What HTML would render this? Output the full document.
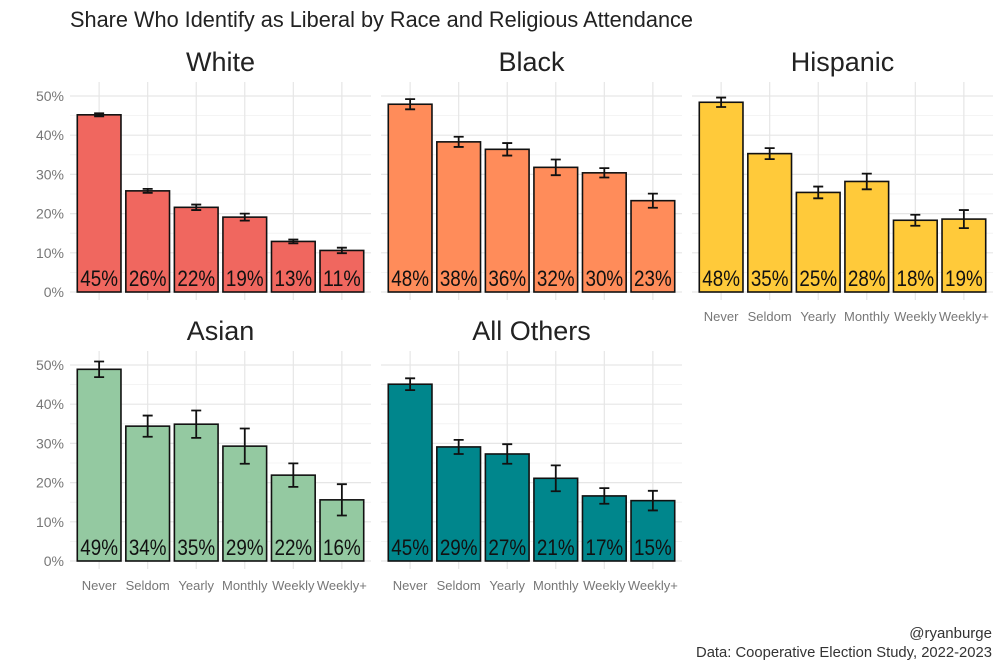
<!DOCTYPE html>
<html><head><meta charset="utf-8">
<style>
body{margin:0;background:#fff;}
svg{display:block;font-family:"Liberation Sans Narrow","Liberation Sans",sans-serif;}
</style></head>
<body>
<svg id="chart" width="1000" height="667" viewBox="0 0 1000 667">
<text x="70" y="27" font-size="22" fill="#222" textLength="623" lengthAdjust="spacingAndGlyphs">Share Who Identify as Liberal by Race and Religious Attendance</text>
<text x="992" y="638" font-size="15" fill="#333" text-anchor="end">@ryanburge</text>
<text x="992" y="657" font-size="15" fill="#333" text-anchor="end" textLength="296" lengthAdjust="spacingAndGlyphs">Data: Cooperative Election Study, 2022-2023</text>
</svg>
<script>
const categories=["Never","Seldom","Yearly","Monthly","Weekly","Weekly+"];
const groups=["White","Black","Hispanic","Asian","All Others"];
const colors=["#F0675F","#FF8C5A","#FFCA3A","#94C9A1","#00868C"];
const whiteVals=[45.2,25.8,21.6,19.1,12.9,10.6];
const blackVals=[47.9,38.3,36.4,31.8,30.4,23.3];
const hispanicVals=[48.4,35.3,25.4,28.2,18.3,18.6];
const asianVals=[48.9,34.4,34.9,29.3,21.9,15.6];
const otherVals=[45.1,29.1,27.3,21.1,16.6,15.4];
const whiteErr=[0.4,0.5,0.7,0.9,0.5,0.7];
const blackErr=[1.3,1.3,1.6,2.0,1.2,1.8];
const hispanicErr=[1.2,1.4,1.5,2.0,1.4,2.3];
const asianErr=[2.0,2.7,3.5,4.5,3.0,4.0];
const otherErr=[1.5,1.8,2.5,3.3,2.0,2.5];
const yTicks=[0,10,20,30,40,50];
const yTickLabels=["0%","10%","20%","30%","40%","50%"];

const allVals=[whiteVals,blackVals,hispanicVals,asianVals,otherVals];
const allErr=[whiteErr,blackErr,hispanicErr,asianErr,otherErr];
const NS="http://www.w3.org/2000/svg";
const svg=document.getElementById('chart');
function mk(tag,attrs,parent){const e=document.createElementNS(NS,tag);for(const k in attrs)e.setAttribute(k,attrs[k]);(parent||svg).appendChild(e);return e;}
const panelLeft=[70,381,692];
const panelW=301;
const rowZero=[292,561];
const pxPerPct=196/50;
groups.forEach((g,gi)=>{
  const col=gi%3,row=Math.floor(gi/3);
  const x0=panelLeft[col],z=rowZero[row];
  const unit=panelW/(categories.length+0.2);
  const xs=i=>x0+unit*(0.6+i);
  const ys=v=>z-v*pxPerPct;
  const grp=mk('g',{},svg);
  
  
  // grid
  for(let t=0;t<=55;t+=5){
    if(ys(t)<z-210)continue;
    const l=mk('line',{x1:x0,x2:x0+panelW,y1:ys(t),y2:ys(t),stroke:t%10===0?'#e6e6e6':'#f1f1f1','stroke-width':t%10===0?1.2:0.8},grp);
    
    
  }
  categories.forEach((c,i)=>{
    const l=mk('line',{x1:xs(i),x2:xs(i),y1:z-210,y2:z+8,stroke:'#e6e6e6','stroke-width':1.2},grp);
    
    
  });
  // y labels
  if(col===0){
    yTicks.forEach((t,i)=>{
      const tx=mk('text',{x:x0-6,y:ys(t)+5,'font-size':14,fill:'#777','text-anchor':'end'},grp);
      tx.textContent=yTickLabels[i];
      
      
    });
  }
  // title
  const tt=mk('text',{x:x0+panelW/2,y:z-221,'font-size':27,fill:'#222','text-anchor':'middle'},grp);
  tt.textContent=g;
  
  
  const vals=allVals[gi],err=allErr[gi];
  const bw=unit*0.9;
  vals.forEach((v,i)=>{
    const r=mk('rect',{x:xs(i)-bw/2,y:ys(v),width:bw,height:v*pxPerPct,fill:colors[gi],stroke:'#111','stroke-width':1.6},grp);
    
    
    const e=err[i];
    const ep=mk('path',{d:`M${xs(i)-5},${ys(v+e)}H${xs(i)+5}M${xs(i)},${ys(v+e)}V${ys(v-e)}M${xs(i)-5},${ys(v-e)}H${xs(i)+5}`,stroke:'#111','stroke-width':1.8,fill:'none'},grp);
    
    
    const lb=mk('text',{x:xs(i),y:z-6,'font-size':22,fill:'#111','text-anchor':'middle',textLength:bw-6,lengthAdjust:'spacingAndGlyphs'},grp);
    lb.textContent=Math.round(v)+'%';
    
    
    if(row===1||col===2){
      const xl=mk('text',{x:xs(i),y:z+29,'font-size':13,fill:'#777','text-anchor':'middle'},grp);
      xl.textContent=categories[i];
      
      
    }
  });
});
</script>
</body></html>
